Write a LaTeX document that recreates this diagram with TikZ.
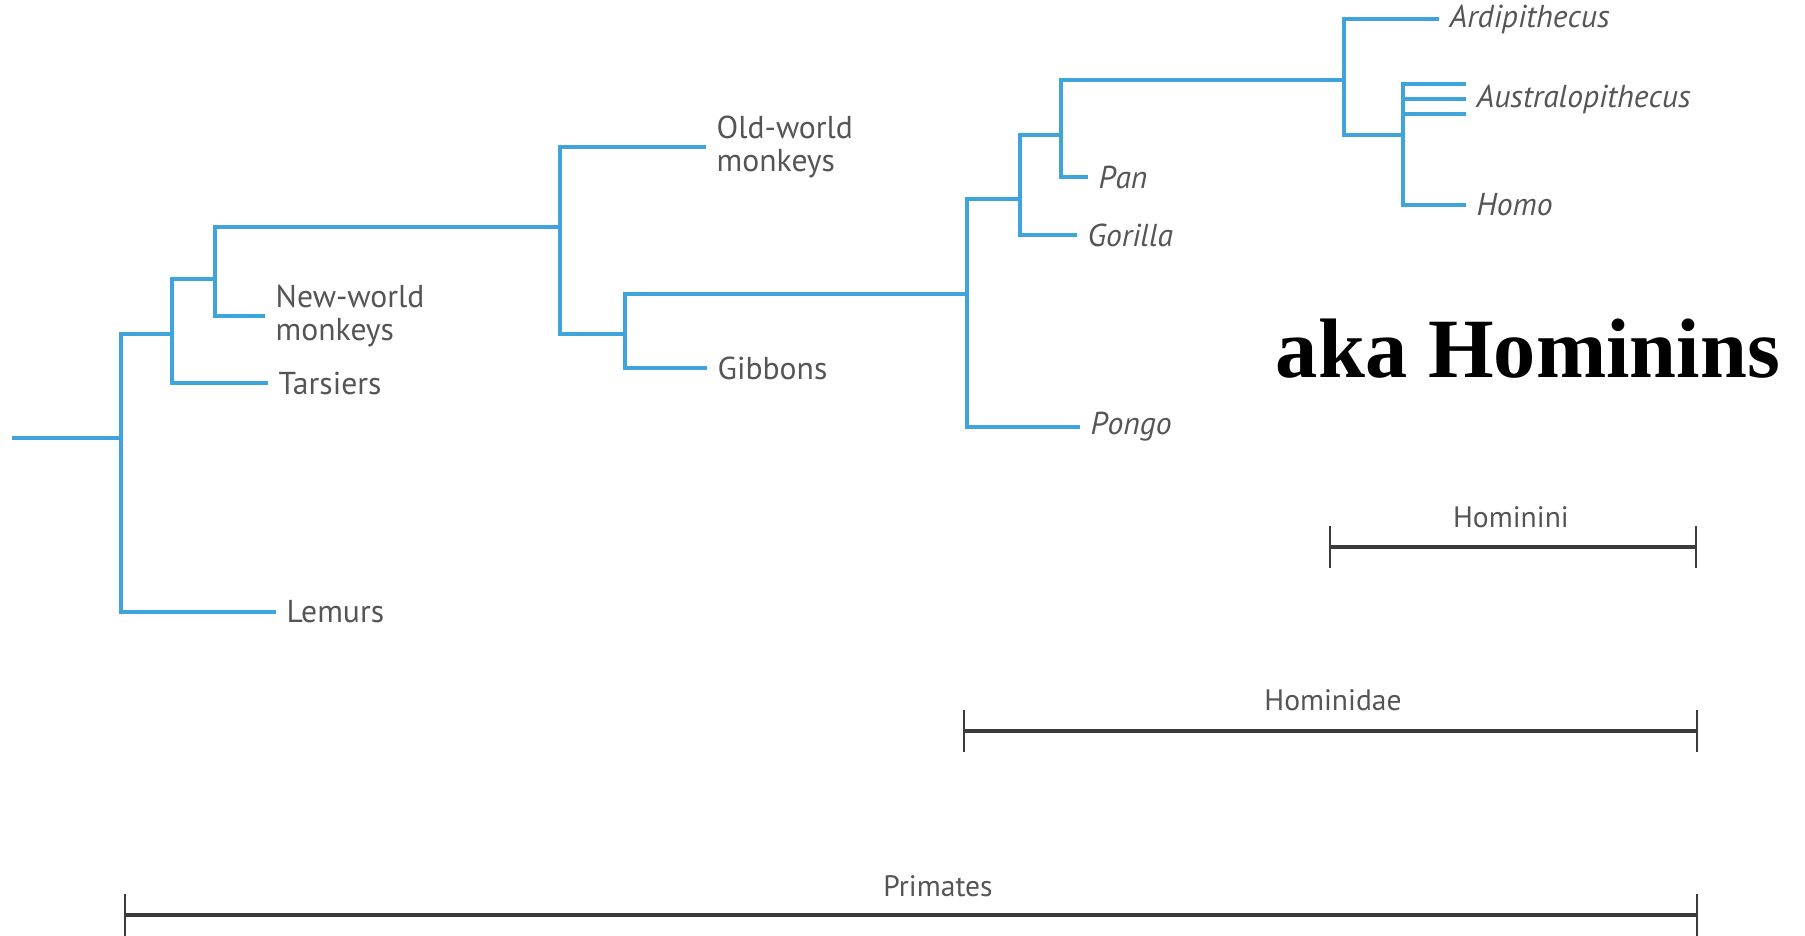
\documentclass[tikz,border=0pt]{standalone}
\usepackage{fontspec}
\setmainfont{PT Sans}
\newfontfamily\headfont{Liberation Serif}
\usetikzlibrary{arrows.meta}
\definecolor{branchblue}{HTML}{3FA3DC}
\definecolor{labgray}{HTML}{555555}
\definecolor{bargray}{HTML}{3C3C3C}
\tikzset{
  br/.style={draw=branchblue, line width=1.25pt, line cap=rect},
  lab/.style={anchor=west, inner xsep=0.12cm, inner ysep=0pt, text=labgray, font=\fontsize{9pt}{9.6pt}\selectfont, align=left},
  ilab/.style={lab, font=\fontsize{9pt}{9.6pt}\selectfont\itshape},
  brk/.style={draw=bargray, line width=0.9pt, {Bar[width=0.42cm,line width=0.6pt]}-{Bar[width=0.42cm,line width=0.6pt]}},
  brklab/.style={text=labgray, font=\fontsize{8.4pt}{9pt}\selectfont, inner sep=0pt}
}
\begin{document}
\begin{tikzpicture}[x=0.01cm,y=-0.01cm]
\useasboundingbox (0,0) rectangle (1805,935);
% internal nodes
\coordinate (r0) at (14,438);
\coordinate (A) at (121,438);
\coordinate (B) at (172,334);
\coordinate (C) at (215,279);
\coordinate (D) at (560,227);
\coordinate (E) at (625,334);
\coordinate (F) at (967,294);
\coordinate (G) at (1020,199);
\coordinate (H) at (1061,135);
\coordinate (I) at (1344,80);
\coordinate (J) at (1403,135);
% leaves
\node[lab] (lemurs) at (274,612) {Lemurs};
\node[lab] (tars) at (266,383) {Tarsiers};
\node[lab] (nwm) at (263,316) {New-world\\monkeys};
\node[lab] (owm) at (704,147) {Old-world\\monkeys};
\node[lab] (gib) at (705,368) {Gibbons};
\node[ilab] (pongo) at (1078,427) {Pongo};
\node[ilab] (gor) at (1075,235) {Gorilla};
\node[ilab] (pan) at (1086,177) {Pan};
\node[ilab] (ardi) at (1437,19) {Ardipithecus};
\node[ilab] (aus) at (1464,99) {Australopithecus};
\coordinate (au1) at (1464,84);
\coordinate (au3) at (1464,114);
\node[ilab] (homo) at (1464,205) {Homo};
% branches
\draw[br] (r0) -- (A);
\draw[br] (A) |- (B);
\draw[br] (A) |- (lemurs.west);
\draw[br] (B) |- (C);
\draw[br] (B) |- (tars.west);
\draw[br] (C) |- (D);
\draw[br] (C) |- (nwm.west);
\draw[br] (D) |- (owm.west);
\draw[br] (D) |- (E);
\draw[br] (E) |- (F);
\draw[br] (E) |- (gib.west);
\draw[br] (F) |- (G);
\draw[br] (F) |- (pongo.west);
\draw[br] (G) |- (H);
\draw[br] (G) |- (gor.west);
\draw[br] (H) |- (I);
\draw[br] (H) |- (pan.west);
\draw[br] (I) |- (ardi.west);
\draw[br] (I) |- (J);
\draw[br] (J) |- (au1);
\draw[br] (J) |- (aus.west);
\draw[br] (J) |- (au3);
\draw[br] (J) |- (homo.west);
% title
\node[anchor=base, inner sep=0pt, font=\headfont\bfseries\fontsize{24pt}{28pt}\selectfont] (aka) at (1528,377) {aka Hominins};
% brackets
\coordinate (hiL) at (1329,547);
\coordinate (hiR) at (1697,547);
\coordinate (hdL) at (963,731);
\coordinate (hdR) at (1698,731);
\coordinate (prL) at (124,915);
\coordinate (prR) at (1698,915);
\draw[brk] (hiL) -- (hiR);
\draw[brk] (hdL) -- (hdR);
\draw[brk] (prL) -- (prR);
\node[brklab] (hinl) at (1511,517) {Hominini};
\node[brklab] (hdnl) at (1333,700) {Hominidae};
\node[brklab] (prnl) at (938,886) {Primates};
\end{tikzpicture}
\end{document}
